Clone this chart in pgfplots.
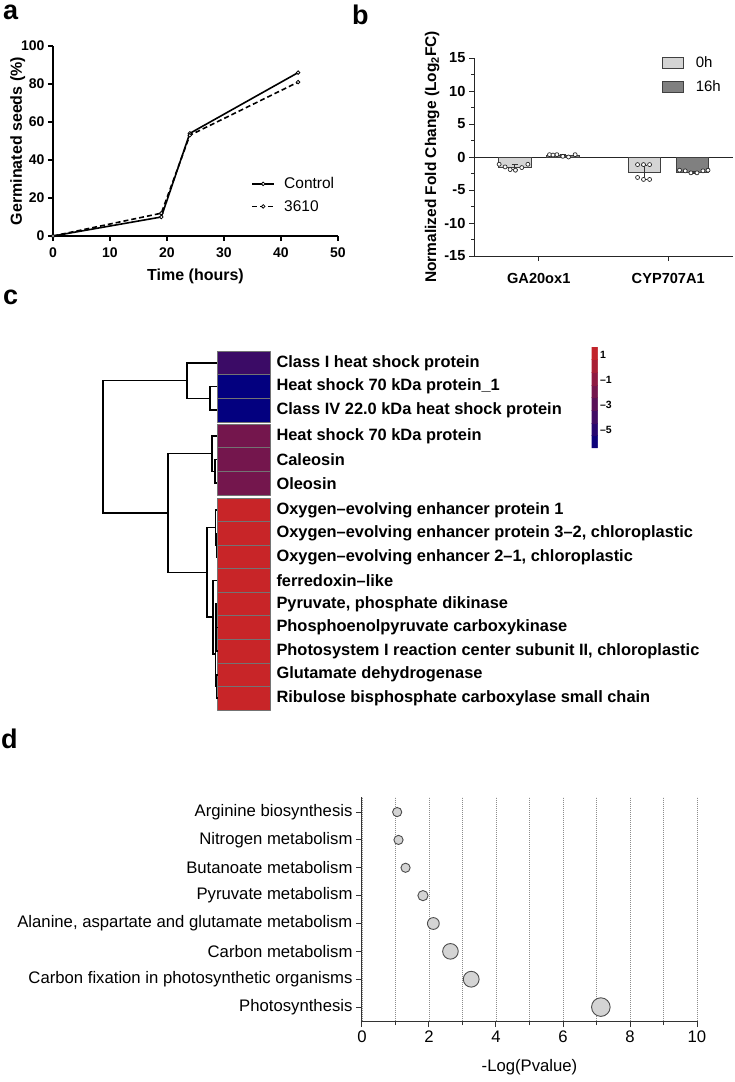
\documentclass[border=0pt]{standalone}
\usepackage{fontspec}
\setmainfont{Liberation Sans}
\usepackage{pgfplots}
\pgfplotsset{compat=1.18}
\usetikzlibrary{calc}
\newcommand{\fs}[1]{\fontsize{#1}{#1}\selectfont}
\definecolor{barlight}{RGB}{212,212,212}
\definecolor{bardark}{RGB}{128,128,128}
\definecolor{bubble}{RGB}{212,212,212}
\begin{document}
\begin{tikzpicture}
\useasboundingbox (0pt,0pt) rectangle (734pt,-1082pt);

% panel letters
\node[anchor=north west, inner sep=0pt, font=\bfseries\fs{27}] at (3pt,-5pt) {a};
\node[anchor=north west, inner sep=0pt, font=\bfseries\fs{27}] at (352pt,-5pt) {b};
\node[anchor=north west, inner sep=0pt, font=\bfseries\fs{27}] at (3pt,-290pt) {c};
\node[anchor=north west, inner sep=0pt, font=\bfseries\fs{27}] at (1pt,-729pt) {d};

% ---------------- panel a ----------------
\begin{axis}[
  at={(53pt,-236pt)}, anchor=south west, scale only axis,
  width=285pt, height=190pt,
  xmin=0, xmax=50, ymin=0, ymax=100,
  axis lines=left, axis line style={line width=1.3pt, -},
  xtick={0,10,20,30,40,50}, xticklabels={0,10,20,30,40,50},
  ytick={0,20,40,60,80,100}, yticklabels={0,20,40,60,80,100},
  tick style={line width=1.3pt, black}, tick align=outside, major tick length=5pt,
  ticklabel style={font=\bfseries\fs{14}},
  xticklabel style={yshift=-3pt},
  xlabel={Time (hours)}, ylabel={Germinated seeds (\%)},
  label style={font=\bfseries\fs{16}},
  xlabel style={yshift=-5pt}, ylabel style={yshift=-11pt},
  clip=false,
  legend style={at={(0.685,0.33)}, anchor=north west, draw=none, fill=none,
    font=\fs{15.5}, row sep=6pt},
  legend cell align=left,
  legend image code/.code={\draw[#1, mark repeat=2, mark phase=2] plot coordinates {(0pt,0pt) (11pt,0pt) (22pt,0pt)}; \path[draw=none, fill=none] (0pt,0pt) -- (30pt,0pt);},
]
\addplot[black, line width=1.6pt, mark=*, mark size=1.8pt, mark options={solid, fill=white, line width=0.8pt}]
  coordinates {(0,0) (19,10) (24,54) (43,86)};
\addlegendentry{Control}
\addplot[black, line width=1.6pt, dash pattern=on 5pt off 3pt, mark=*, mark size=1.8pt, mark options={solid, fill=white, line width=0.8pt}]
  coordinates {(0,0) (19,12) (24,53) (43,81)};
\addlegendentry{3610}
\end{axis}

% ---------------- panel b ----------------
\begin{axis}[
  at={(474pt,-256pt)}, anchor=south west, scale only axis,
  width=259pt, height=198pt,
  xmin=-0.5, xmax=1.5, ymin=-15, ymax=15,
  axis lines=left, axis line style={line width=1pt, black!85, -},
  xtick={0,1}, xticklabels={GA20ox1,CYP707A1},
  ytick={-15,-10,-5,0,5,10,15}, yticklabels={-15,-10,-5,0,5,10,15},
  minor y tick num=1,
  tick style={line width=1pt, black!85}, tick align=outside,
  major tick length=5pt, minor tick length=3pt,
  ticklabel style={font=\bfseries\fs{14.6}},
  xticklabel style={yshift=-9pt},
  extra y ticks={0}, extra y tick labels={},
  extra y tick style={grid=major, major grid style={black!85, line width=1pt}},
  ylabel={Normalized Fold Change (Log$_\mathbf{2}$FC)},
  label style={font=\bfseries\fs{15.5}},
  ylabel style={yshift=-12pt},
  clip=false,
  legend style={at={(0.715,1.03)}, anchor=north west, draw=none, fill=none,
    font=\fs{15}, row sep=8pt},
  legend cell align=left,
  legend image code/.code={\draw[#1] (0pt,-5.5pt) rectangle (21pt,5.5pt); \path[draw=none, fill=none] (0pt,0pt) -- (31pt,0pt);},
]
\addplot[ybar, bar width=0.25, bar shift=0pt, fill=barlight, draw=black!75, line width=0.8pt,
  error bars/.cd, y dir=both, y explicit,
  error bar style={line width=0.8pt, black!80}, error mark options={rotate=90, mark size=3pt, line width=0.8pt}]
  coordinates {(-0.185,-1.5) +- (0,0.35) (0.815,-2.35) +- (0,1.05)};
\addlegendentry{0h}
\addplot[ybar, bar width=0.25, bar shift=0pt, fill=bardark, draw=black!75, line width=0.8pt,
  error bars/.cd, y dir=both, y explicit,
  error bar style={line width=0.8pt, black!80}, error mark options={rotate=90, mark size=3pt, line width=0.8pt}]
  coordinates {(0.185,0.2) +- (0,0.15) (1.185,-2.27) +- (0,0.15)};
\addlegendentry{16h}
\addplot[only marks, mark=*, mark size=2pt, mark options={fill=white, draw=black!85, line width=0.7pt}, forget plot]
  coordinates {(-0.306,-1.1) (-0.260,-1.5) (-0.221,-1.9) (-0.180,-2.0) (-0.131,-1.6) (-0.084,-1.1)
               (0.083,0.36) (0.140,0.36) (0.186,0.1) (0.230,0.0) (0.281,0.36) (0.11,0.3)
               (0.763,-1.15) (0.809,-1.15) (0.856,-1.15) (0.763,-3.1) (0.809,-3.4) (0.856,-3.4)
               (1.087,-2.0) (1.131,-2.1) (1.175,-2.4) (1.222,-2.4) (1.268,-2.1) (1.307,-2.0)};
\end{axis}

% ---------------- panel c (dendrogram + heat map) ----------------
\begin{axis}[
  at={(95pt,-340pt)}, anchor=north west, scale only axis,
  width=175pt, height=380pt,
  xmin=95, xmax=270, ymin=340, ymax=720, y dir=reverse,
  axis line style={draw=none},
  xtick=\empty,
  ytick={362.8,386.5,410.2,435.8,459.5,483.2,509.8,533.3,556.9,580.4,604.0,627.6,651.1,674.7,698.2},
  yticklabels={Class I heat shock protein,
    Heat shock 70 kDa protein\_1,
    Class IV 22.0 kDa heat shock protein,
    Heat shock 70 kDa protein,
    Caleosin,
    Oleosin,
    Oxygen–evolving enhancer protein 1,
    Oxygen–evolving enhancer protein 3–2{,} chloroplastic,
    Oxygen–evolving enhancer 2–1{,} chloroplastic,
    ferredoxin–like,
    Pyruvate{,} phosphate dikinase,
    Phosphoenolpyruvate carboxykinase,
    Photosystem I reaction center subunit II{,} chloroplastic,
    Glutamate dehydrogenase,
    Ribulose bisphosphate carboxylase small chain},
  yticklabel pos=right, major tick length=0pt,
  yticklabel style={font=\bfseries\fs{16.4}, anchor=west, xshift=3pt},
  clip=false,
  colormap={hm}{rgb255=(0,0,128) rgb255=(205,38,38)},
  point meta min=-6.4, point meta max=1.6,
  colorbar sampled,
  colorbar style={samples=9, at={(parent axis.north west)}, anchor=north west,
    xshift=488pt, yshift=-7pt, width=6pt, height=101pt,
    ytick={-5,-3,-1,1}, yticklabels={–5,–3,–1,1},
    yticklabel style={font=\bfseries\fs{10.5}, xshift=-1pt},
    major tick length=0pt, axis line style={draw=none}},
]
\addplot[patch, patch type=rectangle, shader=faceted, faceted color=black!55, line width=0.6pt, point meta=explicit]
table[x=x, y=y, meta=c] {
x y c
217 351 -4.1
270 351 -4.1
270 374.67 -4.1
217 374.67 -4.1
217 374.67 -6.3
270 374.67 -6.3
270 398.33 -6.3
217 398.33 -6.3
217 398.33 -6.3
270 398.33 -6.3
270 422 -6.3
217 422 -6.3
217 424 -1.9
270 424 -1.9
270 447.67 -1.9
217 447.67 -1.9
217 447.67 -1.9
270 447.67 -1.9
270 471.33 -1.9
217 471.33 -1.9
217 471.33 -1.9
270 471.33 -1.9
270 495 -1.9
217 495 -1.9
217 498 1.35
270 498 1.35
270 521.56 1.35
217 521.56 1.35
217 521.56 1.35
270 521.56 1.35
270 545.11 1.35
217 545.11 1.35
217 545.11 1.35
270 545.11 1.35
270 568.67 1.35
217 568.67 1.35
217 568.67 1.35
270 568.67 1.35
270 592.22 1.35
217 592.22 1.35
217 592.22 1.35
270 592.22 1.35
270 615.78 1.35
217 615.78 1.35
217 615.78 1.35
270 615.78 1.35
270 639.33 1.35
217 639.33 1.35
217 639.33 1.35
270 639.33 1.35
270 662.89 1.35
217 662.89 1.35
217 662.89 1.35
270 662.89 1.35
270 686.44 1.35
217 686.44 1.35
217 686.44 1.35
270 686.44 1.35
270 710 1.35
217 710 1.35
};
% dendrogram
\addplot[black, line width=1.6pt, unbounded coords=jump, line join=miter] coordinates {
(217,386.5) (210,386.5) (210,410.2) (217,410.2) (nan,nan)
(217,362.8) (187,362.8) (187,398.35) (210,398.35) (nan,nan)
(217,459.5) (215,459.5) (215,483.2) (217,483.2) (nan,nan)
(217,435.8) (212,435.8) (212,471.35) (215,471.35) (nan,nan)
(217,533.3) (216.3,533.3) (216.3,556.9) (217,556.9) (nan,nan)
(217,509.8) (215.5,509.8) (215.5,545.1) (216.3,545.1) (nan,nan)
(217,627.6) (216.5,627.6) (216.5,651.1) (217,651.1) (nan,nan)
(217,604.0) (216,604.0) (216,639.35) (216.5,639.35) (nan,nan)
(217,674.7) (216.6,674.7) (216.6,698.2) (217,698.2) (nan,nan)
(216,621.7) (215.5,621.7) (215.5,686.45) (216.6,686.45) (nan,nan)
(217,580.4) (213,580.4) (213,654.1) (215.5,654.1) (nan,nan)
(215.5,527.45) (207,527.45) (207,617.25) (213,617.25) (nan,nan)
(212,453.6) (168,453.6) (168,572.35) (207,572.35) (nan,nan)
(187,380.6) (103,380.6) (103,513) (168,513)
};
\end{axis}

% ---------------- panel d ----------------
\begin{axis}[
  at={(362pt,-1021pt)}, anchor=south west, scale only axis,
  width=335pt, height=224pt,
  xmin=0, xmax=10, ymin=0.5, ymax=8.54,
  axis x line=bottom, axis y line=left,
  axis line style={line width=1pt, black!80, -},
  xtick={0,2,4,6,8,10}, xticklabels={0,2,4,6,8,10},
  minor x tick num=1,
  xmajorgrids, xminorgrids,
  grid style={black!45, line width=0.6pt, dash pattern=on 1pt off 1pt},
  ytick={1,2,3,4,5,6,7,8},
  yticklabels={Photosynthesis,
    Carbon fixation in photosynthetic organisms,
    Carbon metabolism,
    {Alanine, aspartate and glutamate metabolism},
    Pyruvate metabolism,
    Butanoate metabolism,
    Nitrogen metabolism,
    Arginine biosynthesis},
  tick style={line width=1pt, black!80}, tick align=outside,
  major tick length=6pt, minor tick length=4pt,
  ticklabel style={font=\fs{16.7}},
  xlabel={-Log(Pvalue)}, xlabel style={font=\fs{16.7}, yshift=-10pt},
  clip=false,
  every axis plot/.append style={only marks, mark=*, mark options={draw=black!70, fill=bubble, line width=0.9pt}},
]
\addplot[mark size=4.6pt] coordinates {(1.05,8)};
\addplot[mark size=4.6pt] coordinates {(1.09,7)};
\addplot[mark size=4.6pt] coordinates {(1.30,6)};
\addplot[mark size=5.1pt] coordinates {(1.82,5)};
\addplot[mark size=5.9pt] coordinates {(2.13,4)};
\addplot[mark size=7.8pt] coordinates {(2.64,3)};
\addplot[mark size=7.9pt] coordinates {(3.26,2)};
\addplot[mark size=9.3pt] coordinates {(7.13,1)};
\end{axis}

\end{tikzpicture}
\end{document}
